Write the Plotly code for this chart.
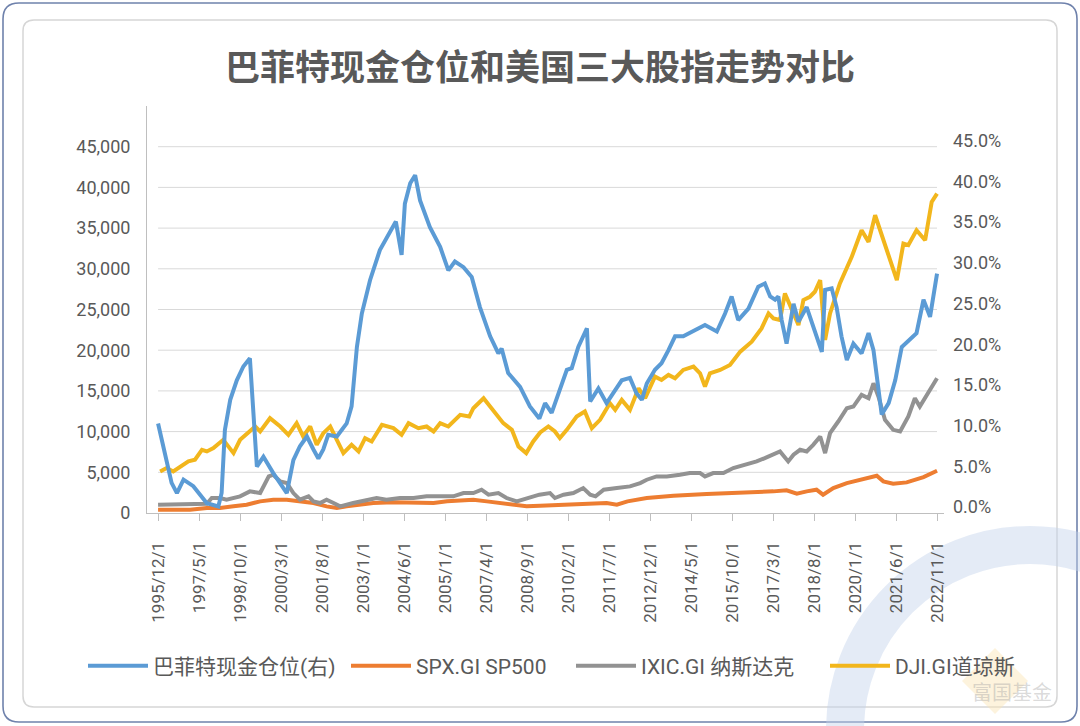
import plotly.graph_objects as go

# ---------------- data ----------------
TITLE = "巴菲特现金仓位和美国三大股指走势对比"
X_TICK_LABELS = ["1995/12/1", "1997/5/1", "1998/10/1", "2000/3/1", "2001/8/1",
                 "2003/1/1", "2004/6/1", "2005/1/1", "2007/4/1", "2008/9/1",
                 "2010/2/1", "2011/7/1", "2012/12/1", "2014/5/1", "2015/10/1",
                 "2017/3/1", "2018/8/1", "2020/1/1", "2021/6/1", "2022/11/1"]
LEFT_TICKS = [0, 5000, 10000, 15000, 20000, 25000, 30000, 35000, 40000, 45000]
RIGHT_TICKS = [0, 5, 10, 15, 20, 25, 30, 35, 40, 45]
RIGHT_TICK_LABELS = ["0.0%", "5.0%", "10.0%", "15.0%", "20.0%", "25.0%", "30.0%", "35.0%", "40.0%", "45.0%"]
SERIES_NAMES = ["巴菲特现金仓位(右)", "SPX.GI SP500", "IXIC.GI 纳斯达克", "DJI.GI道琼斯"]

# positions are in units of the category tick spacing (0 = 1995/12/1 ... 19 = 2022/11/1)
cash_x = [0, 0.33, 0.46, 0.62, 0.86, 1.19, 1.47, 1.55, 1.63, 1.76, 1.92, 2.08, 2.24, 2.33, 2.41,
          2.57, 2.81, 3.14, 3.22, 3.30, 3.46, 3.63, 3.79, 3.91, 4.03, 4.15, 4.36, 4.60, 4.72, 4.85,
          4.97, 5.17, 5.41, 5.66, 5.80, 5.94, 6.02, 6.15, 6.27, 6.39, 6.63, 6.88, 7.08, 7.24, 7.45,
          7.65, 7.85, 8.10, 8.30, 8.38, 8.54, 8.83, 9.07, 9.30, 9.44, 9.60, 9.76, 9.97, 10.09,
          10.25, 10.46, 10.54, 10.74, 10.94, 11.15, 11.31, 11.51, 11.67, 11.80, 11.92, 12.12,
          12.28, 12.45, 12.61, 12.81, 13.06, 13.34, 13.63, 13.83, 13.99, 14.15, 14.40, 14.64,
          14.80, 14.93, 15.05, 15.13, 15.21, 15.33, 15.50, 15.62, 15.82, 15.98, 16.19, 16.27,
          16.43, 16.55, 16.67, 16.80, 16.96, 17.16, 17.33, 17.45, 17.57, 17.65, 17.82, 17.98,
          18.14, 18.34, 18.50, 18.67, 18.83, 19.0]
cash_pct = [11.0, 3.7, 2.45, 4.1, 3.3, 1.2, 0.8, 2.45, 10.2, 13.9, 16.3, 18.0, 19.0, 11.9, 5.7,
            6.9, 4.9, 2.45, 4.5, 6.5, 8.2, 9.4, 7.8, 6.7, 7.8, 9.6, 9.4, 11.0, 13.1, 20.4,
            24.5, 28.6, 32.3, 34.7, 35.8, 31.7, 38.0, 40.5, 41.5, 38.4, 35.1, 32.7, 29.8, 30.9, 30.2,
            29.0, 25.3, 21.7, 19.6, 20.2, 17.2, 15.5, 13.1, 11.6, 13.5, 12.3, 14.7, 17.6, 17.8,
            20.4, 22.7, 13.7, 15.3, 13.5, 15.1, 16.3, 16.6, 14.7, 13.9, 15.9, 17.6,
            18.4, 20.0, 21.7, 21.7, 22.3, 23.1, 22.3, 24.5, 26.6, 23.7, 25.1, 27.8,
            28.2, 26.6, 26.2, 26.6, 23.7, 20.8, 25.7, 23.5, 25.3, 22.9, 19.8, 27.4,
            27.6, 25.3, 21.7, 18.8, 20.8, 19.6, 22.1, 20.0, 14.7, 12.1, 13.5, 16.3,
            20.4, 21.3, 22.1, 26.2, 24.1, 29.4]

spx_x = [0, 0.37, 0.78, 1.19, 1.51, 1.84, 2.16, 2.49, 2.81, 3.14, 3.46, 3.79, 4.11, 4.36, 4.60,
         4.93, 5.25, 5.74, 6.23, 6.72, 7.05, 7.37, 7.69, 8.02, 8.34, 8.67, 8.99, 9.32, 10.13,
         10.94, 11.19, 11.45, 11.92, 12.57, 13.38, 14.20, 15.01, 15.33, 15.58, 15.82, 16.06,
         16.22, 16.47, 16.80, 17.12, 17.53, 17.69, 17.93, 18.26, 18.67, 19.0]
spx_val = [409, 409, 409, 613, 613, 817, 1022, 1430, 1635, 1635, 1430, 1226, 817, 613, 817,
           1022, 1226, 1308, 1308, 1226, 1430, 1553, 1635, 1430, 1226, 899, 817, 899, 1022,
           1226, 1022, 1430, 1839, 2125, 2330, 2452, 2657, 2779, 2370, 2657, 2861,
           2248, 3065, 3678, 4087, 4577, 3883, 3597, 3760, 4414, 5190]

ixic_x = [0, 0.37, 0.78, 1.19, 1.31, 1.51, 1.67, 2.00, 2.24, 2.49, 2.70, 2.81, 2.98, 3.14, 3.30,
          3.46, 3.67, 3.79, 3.95, 4.11, 4.28, 4.44, 4.76, 5.09, 5.33, 5.57, 5.90, 6.23, 6.55,
          6.88, 7.20, 7.45, 7.69, 7.89, 8.06, 8.30, 8.50, 8.75, 8.99, 9.30, 9.56, 9.68, 9.89,
          10.13, 10.37, 10.54, 10.67, 10.87, 11.19, 11.51, 11.76, 11.92, 12.16, 12.41, 12.73,
          12.97, 13.22, 13.34, 13.54, 13.79, 14.03, 14.35, 14.60, 14.80, 15.01, 15.17, 15.37,
          15.50, 15.66, 15.82, 15.98, 16.15, 16.27, 16.39, 16.59, 16.80, 16.96, 17.16, 17.33,
          17.45, 17.57, 17.73, 17.93, 18.10, 18.30, 18.46, 18.58, 18.79, 19.0]
ixic_val = [1022, 1022, 1022, 1144, 1839, 1839, 1635, 2044, 2657, 2452, 4496, 4700, 3883, 3678, 2452,
            1635, 2044, 1430, 1226, 1635, 1226, 817, 1226, 1635, 1839, 1635, 1839, 1839, 2044,
            2044, 2044, 2452, 2452, 2861, 2248, 2452, 1839, 1430, 1839, 2248, 2452, 1839, 2248,
            2452, 3065, 2248, 2044, 2861, 3065, 3270, 3678, 4087, 4496, 4496, 4700,
            4904, 4904, 4496, 4904, 4904, 5517, 5926, 6335, 6744, 7152, 7561, 6335,
            7152, 7765, 7561, 8378, 9400, 7357, 9809, 11239, 12874, 13078, 14509, 14100,
            15939, 14304, 11444, 10217, 10013, 11852, 14100, 13078, 14713, 16552]

dji_x = [0.05, 0.21, 0.37, 0.54, 0.74, 0.90, 1.07, 1.19, 1.35, 1.59, 1.84, 2.00, 2.20, 2.37, 2.49,
         2.73, 2.98, 3.18, 3.38, 3.54, 3.71, 3.87, 4.03, 4.20, 4.36, 4.52, 4.72, 4.89, 5.05,
         5.21, 5.46, 5.74, 5.94, 6.11, 6.35, 6.55, 6.72, 6.88, 7.08, 7.37, 7.59, 7.69, 7.94,
         8.18, 8.42, 8.63, 8.79, 8.98, 9.15, 9.32, 9.52, 9.68, 9.80, 9.97, 10.21, 10.41, 10.58,
         10.78, 11.02, 11.15, 11.31, 11.51, 11.72, 11.88, 12.12, 12.28, 12.45, 12.61, 12.81,
         13.06, 13.22, 13.34, 13.46, 13.71, 13.95, 14.20, 14.48, 14.72, 14.89, 15.01, 15.17,
         15.29, 15.45, 15.62, 15.74, 15.90, 16.02, 16.15, 16.27, 16.39, 16.63, 16.92, 17.16,
         17.33, 17.49, 17.78, 18.02, 18.18, 18.30, 18.50, 18.71, 18.87, 19.0]
dji_val = [5109, 5517, 5109, 5722, 6335, 6539, 7765, 7561, 7970, 8991, 7357, 8991, 9809, 10626, 10013,
           11648, 10626, 9604, 11035, 9400, 10626, 8378, 9809, 10626, 8991, 7357, 8378, 7561, 9196,
           8787, 10830, 10422, 9604, 11035, 10422, 10626, 10013, 11035, 10626, 12057, 11852, 12874, 14100,
           12465, 11035, 10217, 8174, 7357, 8787, 9900, 10626, 10013, 9196, 10217, 11852, 12465, 10422,
           11444, 13487, 12670, 13896, 12670, 15326, 14100, 16757, 16348, 16961, 16552, 17574,
           17983, 17165, 15530, 17165, 17574, 18187, 19822, 21048, 22683, 24522, 23909, 23705,
           26974, 25135, 23092, 26157, 26565, 27178, 28609, 21252, 24522, 28200, 31470, 34739,
           33309, 36578, 32287, 28609, 33104, 32900, 34739, 33513, 38213, 39235]

# ---------------- styling ----------------
COLORS = ["#5B9BD5", "#ED7D31", "#929292", "#F2B61C"]
FONT = "Roboto, 'Noto Sans CJK SC', sans-serif"
TXT = "#595959"
W, H = 1080, 726
PL, PR, PT, PB = 147, 944, 106, 513  # plot box in pixels
LEGEND_ITEM_X = [83, 346, 571, 825]  # where each legend entry starts (px)
LEGEND_SYMBOL_W = 60


def fx(px):
    return (px - PL) / (PR - PL)


def fy(py):
    return (PB - py) / (PB - PT)


def rrect(x0, y0, x1, y1, r):
    return (f"M {fx(x0 + r)},{fy(y0)} L {fx(x1 - r)},{fy(y0)} Q {fx(x1)},{fy(y0)} {fx(x1)},{fy(y0 + r)} "
            f"L {fx(x1)},{fy(y1 - r)} Q {fx(x1)},{fy(y1)} {fx(x1 - r)},{fy(y1)} "
            f"L {fx(x0 + r)},{fy(y1)} Q {fx(x0)},{fy(y1)} {fx(x0)},{fy(y1 - r)} "
            f"L {fx(x0)},{fy(y0 + r)} Q {fx(x0)},{fy(y0)} {fx(x0 + r)},{fy(y0)} Z")


LEG_IDS = ["legend", "legend2", "legend3", "legend4"]

fig = go.Figure()
fig.add_trace(go.Scatter(x=cash_x, y=cash_pct, name=SERIES_NAMES[0], yaxis="y2", mode="lines",
                         line=dict(color=COLORS[0], width=4), legend=LEG_IDS[0]))
fig.add_trace(go.Scatter(x=spx_x, y=spx_val, name=SERIES_NAMES[1], mode="lines",
                         line=dict(color=COLORS[1], width=4), legend=LEG_IDS[1]))
fig.add_trace(go.Scatter(x=ixic_x, y=ixic_val, name=SERIES_NAMES[2], mode="lines",
                         line=dict(color=COLORS[2], width=4), legend=LEG_IDS[2]))
fig.add_trace(go.Scatter(x=dji_x, y=dji_val, name=SERIES_NAMES[3], mode="lines",
                         line=dict(color=COLORS[3], width=4), legend=LEG_IDS[3]))

shapes = []
# gridlines spanning first to last category
for v in LEFT_TICKS[1:]:
    shapes.append(dict(type="line", xref="x", yref="y", x0=0, x1=len(X_TICK_LABELS) - 1, y0=v, y1=v,
                       line=dict(color="#D9D9D9", width=1), layer="below"))
# frames
shapes.append(dict(type="path", xref="paper", yref="paper", path=rrect(3, 3, 1077, 722, 16),
                   line=dict(color="#6F82AC", width=1.6), layer="below"))
shapes.append(dict(type="path", xref="paper", yref="paper", path=rrect(23, 20, 1057, 707, 11),
                   line=dict(color="#D6D6D6", width=1.5), layer="below"))
# watermark logo (decorative)
shapes.append(dict(type="circle", xref="paper", yref="paper", x0=fx(845), x1=fx(1215), y0=fy(915), y1=fy(545),
                   line=dict(color="rgba(196,211,236,0.45)", width=38), layer="below"))
shapes.append(dict(type="path", xref="paper", yref="paper",
                   path=f"M {fx(995)},{fy(648)} L {fx(1028)},{fy(681)} L {fx(995)},{fy(714)} L {fx(962)},{fy(681)} Z",
                   fillcolor="rgba(250,228,180,0.45)", line=dict(width=0), layer="below"))

annotations = [dict(text="富国基金", xref="paper", yref="paper", x=fx(1012), y=fy(691), showarrow=False,
                    font=dict(family="'Noto Sans CJK SC'", size=20, color="rgba(160,160,160,0.4)"),
                    xanchor="center", yanchor="middle")]

legends = {}
for lid, lx in zip(LEG_IDS, LEGEND_ITEM_X):
    legends[lid] = dict(orientation="h", xref="container", yref="container", x=lx / W,
                        y=1 - 666 / H, xanchor="left", yanchor="middle", itemwidth=LEGEND_SYMBOL_W,
                        font=dict(size=21, color=TXT), bgcolor="rgba(0,0,0,0)", borderwidth=0)

fig.update_layout(
    width=W, height=H,
    margin=dict(l=PL, r=W - PR, t=PT, b=H - PB, autoexpand=False),
    paper_bgcolor="white", plot_bgcolor="rgba(0,0,0,0)",
    font=dict(family=FONT, color=TXT, size=18),
    title=dict(text=TITLE, x=0.5, xref="container", xanchor="center", y=1 - 68 / H, yref="container",
               yanchor="middle", font=dict(family="'Noto Sans CJK SC'", size=35, color="#595959", weight="bold")),
    xaxis=dict(range=[-0.27, 19.17], tickmode="array", tickvals=list(range(len(X_TICK_LABELS))),
               ticktext=X_TICK_LABELS, tickangle=-90, showgrid=False, zeroline=False, automargin=False,
               showline=True, linecolor="#BFBFBF", linewidth=1, ticks="outside", ticklen=7,
               tickcolor="#BFBFBF", tickfont=dict(size=17, color=TXT), ticklabelstandoff=14),
    yaxis=dict(range=[0, 50000], tickmode="array", tickvals=LEFT_TICKS, tickformat=",d", automargin=False,
               showgrid=False, zeroline=False, showline=True, linecolor="#BFBFBF", linewidth=1,
               ticks="", tickfont=dict(size=18, color=TXT), ticklabelstandoff=12),
    yaxis2=dict(range=[0, 50], overlaying="y", side="right", tickmode="array", tickvals=RIGHT_TICKS,
                ticktext=RIGHT_TICK_LABELS, showgrid=False, zeroline=False, showline=False, automargin=False,
                ticks="", tickfont=dict(size=18, color=TXT), ticklabelstandoff=8, ticklabelshift=-6),
    shapes=shapes,
    annotations=annotations,
    showlegend=True,
    **legends,
)

fig.write_html("out.html", config={"displayModeBar": False},
               post_script="document.body.style.margin='0';")
